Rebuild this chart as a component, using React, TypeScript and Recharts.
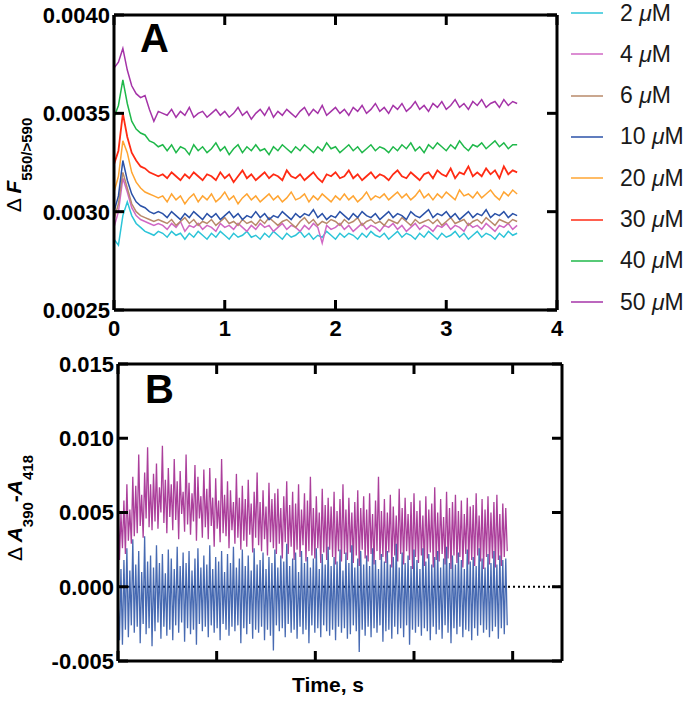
import { LineChart, Line, XAxis, YAxis, ReferenceLine } from 'recharts'

const FONT = '"Liberation Sans", Arial, Helvetica, sans-serif'

// Panel A: ΔF550/>590, values in units of 1e-4, sampled every A_STEP seconds
const A_STEP = 0.04
const A_SCALE = 1e-4

const A_2UM = [
  28.6, 28.3, 29.8, 30.5, 29.8, 29.4, 29.2, 29.0, 28.9, 28.8, 29.0, 28.9,
  28.7, 29.0, 28.8, 28.9, 28.6, 28.9, 28.7, 29.0, 28.8, 28.6,
  28.9, 28.7, 29.0, 28.8, 28.6, 28.9, 28.7, 28.8, 29.0, 28.7,
  28.8, 28.6, 28.9, 28.7, 29.0, 28.8, 28.6, 28.9, 28.7, 28.8,
  29.0, 28.7, 28.9, 28.6, 28.8, 28.7, 29.0, 28.8, 28.6, 28.9,
  28.7, 28.9, 28.8, 28.6, 28.9, 28.7, 29.0, 28.8, 28.7, 28.9,
  28.6, 28.8, 29.0, 28.7, 28.9, 28.8, 28.6, 28.9, 28.7, 29.0,
  28.8, 28.6, 28.9, 28.7, 28.8, 29.0, 28.7, 28.9, 28.6, 28.8,
  29.0, 28.7, 28.9, 28.8, 28.6, 28.9, 28.7, 29.0, 28.8, 28.9,
]
const A_4UM = [
  29.2, 30.0, 31.7, 31.0, 30.2, 29.8, 29.6, 29.5, 29.4, 29.3, 29.4, 29.3,
  29.1, 29.4, 29.2, 29.5, 29.0, 29.3, 29.2, 29.4, 29.1, 29.3,
  29.2, 29.0, 29.4, 29.2, 29.3, 29.1, 29.4, 29.2, 29.0, 29.3,
  29.1, 29.4, 29.2, 29.3, 29.0, 29.2, 29.4, 29.1, 29.3, 29.2,
  29.0, 29.3, 29.1, 29.4, 29.2, 28.4, 29.3, 29.1, 29.2, 29.4,
  29.1, 29.3, 29.0, 29.2, 29.4, 29.1, 29.3, 29.2, 29.0, 29.3,
  29.2, 29.4, 29.1, 29.3, 29.0, 29.2, 29.4, 29.1, 29.3, 29.2,
  29.0, 29.3, 29.2, 29.4, 29.1, 29.3, 29.2, 29.0, 29.4, 29.2,
  29.3, 29.1, 29.4, 29.2, 29.0, 29.3, 29.2, 29.4, 29.1, 29.3,
]
const A_6UM = [
  29.6, 30.4, 32.0, 31.2, 30.4, 30.0, 29.8, 29.7, 29.6, 29.5, 29.6, 29.5,
  29.4, 29.6, 29.3, 29.5, 29.7, 29.4, 29.6, 29.3, 29.5, 29.4,
  29.6, 29.3, 29.5, 29.7, 29.4, 29.5, 29.3, 29.6, 29.4, 29.5,
  29.3, 29.6, 29.4, 29.7, 29.5, 29.3, 29.5, 29.6, 29.4, 29.2,
  29.5, 29.7, 29.4, 29.6, 29.3, 29.5, 29.4, 29.6, 29.5, 29.3,
  29.6, 29.4, 29.5, 29.7, 29.3, 29.5, 29.6, 29.4, 29.5, 29.3,
  29.6, 29.5, 29.4, 29.7, 29.5, 29.3, 29.6, 29.4, 29.5, 29.6,
  29.4, 29.6, 29.3, 29.5, 29.7, 29.4, 29.5, 29.6, 29.3, 29.5,
  29.6, 29.4, 29.7, 29.5, 29.3, 29.6, 29.5, 29.4, 29.6, 29.5,
]
const A_10UM = [
  30.0, 30.8, 32.6, 31.6, 30.9, 30.5, 30.3, 30.2, 30.0, 29.9, 30.0, 29.9,
  29.7, 30.0, 29.8, 29.6, 29.9, 29.7, 30.0, 29.8, 29.6, 29.9,
  29.7, 29.9, 29.6, 29.8, 30.0, 29.7, 29.9, 29.6, 29.8, 29.7,
  30.0, 29.7, 29.9, 29.6, 29.8, 29.7, 30.0, 29.8, 29.6, 29.9,
  29.7, 29.9, 29.8, 30.1, 29.7, 29.9, 29.6, 29.8, 29.7, 30.0,
  29.8, 29.6, 29.9, 29.7, 30.0, 29.8, 29.7, 29.9, 29.6, 29.8,
  30.0, 29.7, 29.9, 29.8, 29.6, 30.0, 29.8, 29.7, 29.9, 30.1,
  29.7, 29.9, 29.8, 30.0, 29.7, 29.9, 29.6, 29.8, 30.0, 29.7,
  29.9, 29.8, 30.1, 29.7, 29.9, 29.8, 30.0, 29.7, 29.9, 29.8,
]
const A_20UM = [
  31.0, 31.8, 33.6, 33.0, 32.0, 31.5, 31.2, 31.0, 30.9, 30.8, 30.7, 30.8,
  30.5, 30.9, 30.6, 30.8, 30.4, 30.7, 30.9, 30.5, 30.8, 30.6,
  30.9, 30.5, 30.7, 31.0, 30.6, 30.8, 30.4, 30.7, 30.9, 30.6,
  30.8, 30.5, 30.7, 30.9, 30.6, 30.8, 30.5, 30.7, 31.0, 30.6,
  30.7, 30.9, 30.5, 30.8, 30.6, 30.9, 30.7, 30.5, 30.8, 30.6,
  30.9, 30.6, 30.8, 30.5, 30.7, 31.0, 30.6, 30.8, 30.7, 30.9,
  30.6, 30.8, 31.0, 30.7, 30.9, 30.6, 30.8, 31.1, 30.7, 30.9,
  30.6, 30.9, 30.7, 31.0, 30.8, 30.6, 31.1, 30.8, 30.9, 30.7,
  31.0, 30.7, 30.9, 31.1, 30.8, 30.6, 31.0, 30.8, 31.1, 30.9,
]
const A_30UM = [
  32.4, 33.1, 35.0, 33.8, 33.0, 32.6, 32.3, 32.2, 32.0, 31.9, 31.8, 31.9,
  31.7, 32.0, 31.8, 31.6, 31.9, 31.7, 32.0, 31.8, 31.6, 31.9,
  31.8, 31.6, 32.0, 31.7, 31.9, 31.5, 31.8, 32.1, 31.7, 31.9,
  31.6, 31.8, 32.0, 31.7, 31.9, 31.8, 31.6, 32.1, 31.8, 31.7,
  31.9, 31.6, 31.8, 32.0, 31.7, 31.5, 31.9, 31.8, 32.0, 31.7,
  31.8, 32.1, 31.7, 31.9, 31.6, 31.8, 32.0, 31.7, 31.9, 31.8,
  31.6, 31.9, 32.1, 31.8, 31.7, 32.0, 31.8, 31.6, 31.9, 32.0,
  31.7, 32.1, 31.9, 31.8, 32.2, 31.7, 32.0, 31.9, 32.3, 31.8,
  32.0, 31.8, 32.2, 31.9, 32.1, 31.7, 32.3, 31.9, 32.1, 32.0,
]
const A_40UM = [
  34.8, 35.4, 36.7, 35.5, 34.6, 34.2, 34.0, 33.9, 33.6, 33.5, 33.3, 33.4,
  33.1, 33.4, 33.0, 33.3, 33.2, 32.9, 33.4, 33.1, 33.3, 33.0,
  33.2, 33.5, 33.1, 33.3, 32.9, 33.2, 33.4, 33.0, 33.3, 33.1,
  33.4, 33.1, 33.2, 32.9, 33.3, 33.1, 33.4, 33.2, 33.0, 33.3,
  33.1, 33.4, 33.2, 33.0, 33.3, 33.1, 33.5, 33.2, 33.3, 33.0,
  33.2, 33.4, 33.1, 33.3, 33.0, 33.2, 33.4, 33.1, 33.3, 33.2,
  33.0, 33.3, 33.1, 33.4, 33.2, 33.5, 33.1, 33.3, 33.0, 33.4,
  33.2, 33.5, 33.3, 33.1, 33.4, 33.2, 33.6, 33.3, 33.1, 33.4,
  33.3, 33.5, 33.2, 33.4, 33.6, 33.3, 33.5, 33.2, 33.4, 33.4,
]
const A_50UM = [
  37.3, 37.6, 38.3, 37.2, 36.4, 36.0, 35.8, 35.9, 35.2, 34.6, 35.1, 35.0,
  34.9, 35.2, 34.8, 35.1, 34.9, 35.3, 34.8, 35.0, 35.1, 34.8,
  35.0, 35.2, 34.9, 35.1, 34.8, 35.0, 35.3, 34.9, 35.1, 34.7,
  35.0, 35.2, 34.9, 35.3, 34.8, 35.1, 34.9, 35.2, 35.0, 34.8,
  35.1, 35.3, 34.9, 35.2, 35.0, 35.4, 34.9, 35.1, 35.3, 35.0,
  35.2, 34.9, 35.3, 35.1, 35.4, 35.0, 35.2, 35.5, 35.1, 35.3,
  35.0, 35.4, 35.2, 35.5, 35.1, 35.3, 35.6, 35.2, 35.4, 35.1,
  35.5, 35.3, 35.6, 35.2, 35.4, 35.7, 35.3, 35.5, 35.2, 35.6,
  35.4, 35.7, 35.3, 35.5, 35.6, 35.3, 35.7, 35.4, 35.6, 35.5,
]

const A_SERIES = [
  { key: 'c2', label: '2', color: '#2cc4d8', values: A_2UM },
  { key: 'c4', label: '4', color: '#d068c4', values: A_4UM },
  { key: 'c6', label: '6', color: '#b8896a', values: A_6UM },
  { key: 'c10', label: '10', color: '#2b52a8', values: A_10UM },
  { key: 'c20', label: '20', color: '#ffa533', values: A_20UM },
  { key: 'c30', label: '30', color: '#ff2b14', values: A_30UM },
  { key: 'c40', label: '40', color: '#1fb84a', values: A_40UM },
  { key: 'c50', label: '50', color: '#a534a8', values: A_50UM },
]

const A_Y_TICKS = [0.0025, 0.003, 0.0035, 0.004]
const A_X_TICKS = [0, 1, 2, 3, 4]

// Panel B: ΔA390-A418, values in units of 1e-3, sampled every B_STEP seconds
const B_STEP = 0.015
const B_SCALE = 1e-3

const B_MAGENTA = [
  6.6, 1.8, 4.9, 2.6, 5.8, 2.2, 6.9, 3.1, 5.2, 2.9, 7.4, 3.4,
  6.8, 3.6, 8.9, 4.1, 6.2, 3.3, 7.7, 4.6, 9.4, 4.0, 6.9, 3.8,
  7.6, 4.4, 8.3, 3.9, 6.7, 5.0, 9.5, 4.3, 7.2, 3.6, 8.0, 4.7,
  6.9, 3.8, 8.6, 4.5, 7.1, 3.2, 7.8, 4.9, 6.4, 3.7, 8.9, 4.2,
  7.0, 3.5, 6.3, 4.4, 8.2, 3.1, 7.4, 4.6, 6.1, 3.3, 7.9, 4.0,
  6.6, 3.2, 8.0, 4.1, 6.0, 2.7, 7.3, 3.9, 5.8, 3.0, 8.6, 3.6,
  6.2, 3.4, 7.1, 2.6, 6.5, 3.8, 5.7, 2.9, 7.6, 3.3, 6.0, 2.5,
  6.8, 3.1, 5.9, 2.7, 7.2, 3.5, 5.6, 2.3, 6.4, 3.3, 7.7, 2.8,
  5.7, 2.4, 6.5, 3.2, 5.4, 2.1, 7.0, 3.0, 5.9, 2.6, 6.3, 2.2,
  6.6, 2.9, 5.3, 1.9, 6.1, 3.0, 7.1, 2.2, 5.5, 2.7, 6.4, 1.8,
  5.6, 2.5, 6.9, 2.0, 5.2, 2.8, 6.3, 1.7, 5.8, 2.4, 7.4, 2.1,
  5.3, 1.9, 6.1, 2.6, 5.0, 1.6, 6.6, 2.3, 5.5, 1.8, 6.0, 2.5,
  5.4, 2.0, 6.4, 1.5, 5.1, 2.4, 5.9, 1.7, 6.9, 2.2, 5.2, 1.8,
  6.0, 2.3, 5.0, 1.6, 5.7, 2.1, 6.5, 1.4, 5.3, 2.5, 6.1, 1.9,
  5.2, 1.7, 6.3, 2.2, 4.9, 1.5, 5.8, 2.4, 7.4, 1.8, 5.1, 2.0,
  5.9, 1.6, 5.0, 2.3, 6.2, 1.3, 5.4, 2.1, 4.8, 1.7, 6.6, 2.2,
  5.3, 1.5, 6.0, 2.4, 4.9, 1.8, 5.7, 1.2, 6.3, 2.0, 5.1, 1.6,
  5.8, 2.1, 4.8, 1.4, 6.1, 1.9, 5.2, 2.3, 5.6, 1.3, 6.7, 1.8,
  5.0, 1.7, 5.9, 2.2, 4.7, 1.5, 6.4, 1.9, 5.3, 1.2, 5.7, 2.1,
  6.2, 1.6, 5.1, 2.0, 5.8, 1.3, 4.9, 2.2, 6.0, 1.5, 5.4, 1.8,
  5.5, 1.4, 6.3, 2.1, 4.8, 1.7, 5.9, 1.2, 5.2, 2.0, 6.1, 1.5,
  5.0, 1.9, 5.7, 1.3, 6.2, 1.8, 4.9, 1.4, 5.6, 2.0, 5.3, 2.4,
]
const B_BLUE = [
  -0.8, -3.6, 1.2, -3.9, 1.8, -2.9, 2.6, -3.4, 1.1, -2.6, 3.2, -3.1,
  1.5, -2.7, 2.4, -3.8, 1.0, -2.5, 3.4, -3.2, 1.7, -2.8, 2.1, -4.0,
  1.3, -3.0, 2.8, -2.4, 1.6, -3.5, 2.2, -2.7, 0.9, -3.3, 2.5, -2.9,
  1.9, -3.6, 1.2, -2.6, 2.7, -3.1, 1.4, -2.4, 2.3, -3.7, 1.6, -2.8,
  2.4, -3.2, 1.1, -2.9, 1.9, -3.9, 2.6, -2.5, 1.3, -3.0, 2.1, -2.7,
  1.5, -3.4, 2.8, -2.6, 1.2, -3.1, 2.0, -2.8, 1.7, -3.6, 2.4, -2.5,
  1.0, -2.9, 2.2, -3.3, 1.6, -2.7, 2.7, -3.0, 1.3, -2.6, 1.9, -3.8,
  2.5, -2.8, 1.4, -3.2, 2.1, -2.5, 1.1, -3.5, 2.6, -2.9, 1.5, -3.1,
  1.8, -2.7, 2.3, -3.6, 1.2, -2.9, 2.0, -3.3, 1.6, -4.3, 2.5, -2.6,
  1.3, -3.0, 2.1, -2.8, 1.7, -3.4, 2.9, -2.5, 1.4, -3.1, 1.9, -2.9,
  2.3, -3.5, 1.0, -2.7, 2.4, -3.2, 1.6, -2.9, 2.0, -3.8, 1.3, -2.6,
  1.9, -3.1, 2.6, -2.8, 1.2, -3.4, 2.2, -2.6, 1.5, -3.0, 2.7, -3.3,
  1.4, -2.9, 2.0, -3.6, 1.7, -2.7, 2.5, -3.1, 1.1, -2.8, 2.3, -3.5,
  1.6, -3.2, 2.8, -2.6, 1.3, -3.0, 1.9, -4.4, 2.4, -2.9, 1.5, -3.3,
  2.1, -2.7, 1.4, -3.4, 2.6, -2.8, 1.8, -3.1, 1.2, -2.6, 2.2, -3.7,
  1.7, -3.0, 2.4, -2.9, 1.5, -3.5, 2.0, -2.7, 2.9, -3.2, 1.3, -2.8,
  2.3, -3.4, 1.6, -2.6, 2.1, -3.9, 1.4, -2.9, 2.5, -3.1, 1.8, -2.7,
  1.2, -3.3, 2.6, -2.8, 1.7, -3.0, 2.2, -3.6, 1.5, -2.7, 2.0, -3.2,
  2.4, -2.9, 1.3, -3.5, 1.9, -2.6, 2.7, -3.1, 1.6, -3.8, 2.1, -2.8,
  1.5, -3.2, 2.3, -2.7, 1.8, -3.4, 1.2, -2.9, 2.5, -3.0, 1.7, -3.6,
  2.0, -2.8, 1.4, -3.3, 2.6, -2.6, 1.9, -3.1, 1.3, -2.9, 2.2, -3.4,
  1.6, -3.0, 2.4, -2.7, 1.5, -3.5, 2.1, -2.8, 1.8, -3.2, 1.9, -2.6,
]

const B_Y_TICKS = [-0.005, 0, 0.005, 0.01, 0.015]
const B_X_TICKS = [0, 1, 2, 3, 4]

const aData = A_2UM.map((_, i) => {
  const row: Record<string, number> = { t: +(i * A_STEP).toFixed(3) }
  A_SERIES.forEach((s) => {
    row[s.key] = s.values[i] * A_SCALE
  })
  return row
})

const bData = B_MAGENTA.map((v, i) => ({
  t: +(i * B_STEP).toFixed(3),
  magenta: v * B_SCALE,
  blue: B_BLUE[i] * B_SCALE,
}))

// plot box sizes (px), used to mirror the inward ticks onto the top/right frame
const A_BOX = { w: 443, h: 295 }
const B_BOX = { w: 444, h: 297 }
const TICK_LEN = 10
const axisStroke = { stroke: '#000', strokeWidth: 3 }

function labelText(x: number, y: number, text: string, anchor: 'end' | 'middle', dy: string) {
  return (
    <text
      x={x}
      y={y}
      dy={dy}
      textAnchor={anchor}
      fontSize={22}
      fontWeight="bold"
      fontFamily={FONT}
      fill="#000"
    >
      {text}
    </text>
  )
}

// left axis: inward tick on the left edge plus its mirror on the right edge
function leftTick(span: number, fmt: (v: number) => string) {
  return (props: any) => {
    const x = Number(props.x)
    const y = Number(props.y)
    return (
      <g>
        <line x1={x} x2={x + TICK_LEN} y1={y} y2={y} stroke="#000" strokeWidth={3} />
        <line x1={x + span} x2={x + span - TICK_LEN} y1={y} y2={y} stroke="#000" strokeWidth={3} />
        {labelText(x - 4, y, fmt(props.payload.value), 'end', '0.36em')}
      </g>
    )
  }
}

// bottom axis: inward tick on the bottom edge plus its mirror on the top edge
function bottomTick(span: number, fmt?: (v: number) => string) {
  return (props: any) => {
    const x = Number(props.x)
    const y = Number(props.y)
    return (
      <g>
        <line x1={x} x2={x} y1={y} y2={y - TICK_LEN} stroke="#000" strokeWidth={3} />
        <line x1={x} x2={x} y1={y - span} y2={y - span + TICK_LEN} stroke="#000" strokeWidth={3} />
        {fmt && labelText(x, y + 26, fmt(props.payload.value), 'middle', '0')}
      </g>
    )
  }
}

function PanelA() {
  return (
    <LineChart
      width={688}
      height={340}
      data={aData}
      margin={{ top: 15, right: 131, bottom: 0, left: 0 }}
    >
      <XAxis
        dataKey="t"
        type="number"
        domain={[0, 4]}
        ticks={A_X_TICKS}
        interval={0}
        height={30}
        tickSize={0}
        tickMargin={0}
        tick={bottomTick(A_BOX.h, (v) => String(v))}
        axisLine={axisStroke}
        tickLine={false}
      />
      <YAxis
        type="number"
        domain={[0.0025, 0.004]}
        ticks={A_Y_TICKS}
        interval={0}
        width={114}
        tickSize={0}
        tickMargin={0}
        tick={leftTick(A_BOX.w, (v) => v.toFixed(4))}
        axisLine={axisStroke}
        tickLine={false}
        allowDataOverflow
      />
      <ReferenceLine y={0.004} stroke="#000" strokeWidth={3} />
      <ReferenceLine x={4} stroke="#000" strokeWidth={3} />
      {A_SERIES.map((s) => (
        <Line
          key={s.key}
          dataKey={s.key}
          name={`${s.label} μM`}
          stroke={s.color}
          strokeWidth={s.key === 'c30' ? 1.8 : 1.5}
          dot={false}
          type="linear"
          isAnimationActive={false}
        />
      ))}
    </LineChart>
  )
}

function PanelB() {
  return (
    <LineChart
      width={688}
      height={363}
      data={bData}
      margin={{ top: 24, right: 126, bottom: 0, left: 0 }}
    >
      <XAxis
        dataKey="t"
        type="number"
        domain={[0, 4.5]}
        ticks={B_X_TICKS}
        interval={0}
        height={42}
        tickSize={0}
        tickMargin={0}
        tick={bottomTick(B_BOX.h)}
        axisLine={axisStroke}
        tickLine={false}
      />
      <YAxis
        type="number"
        domain={[-0.005, 0.015]}
        ticks={B_Y_TICKS}
        interval={0}
        width={118}
        tickSize={0}
        tickMargin={0}
        tick={leftTick(B_BOX.w, (v) => v.toFixed(3))}
        axisLine={axisStroke}
        tickLine={false}
        allowDataOverflow
      />
      <ReferenceLine y={0.015} stroke="#000" strokeWidth={3} />
      <ReferenceLine x={4.5} stroke="#000" strokeWidth={3} />
      <ReferenceLine y={0} stroke="#000" strokeWidth={2} strokeDasharray="2 3" />
      <Line
        dataKey="magenta"
        stroke="#9c1d8a"
        strokeOpacity={0.85}
        strokeWidth={1.3}
        dot={false}
        type="linear"
        isAnimationActive={false}
      />
      <Line
        dataKey="blue"
        stroke="#2750a4"
        strokeOpacity={0.85}
        strokeWidth={1.3}
        dot={false}
        type="linear"
        isAnimationActive={false}
      />
    </LineChart>
  )
}

function LegendA() {
  return (
    <div style={{ position: 'absolute', left: 571, top: -7.6 }}>
      {A_SERIES.map((s) => (
        <div
          key={s.key}
          style={{ display: 'flex', alignItems: 'center', height: 41.3 }}
        >
          <div style={{ width: 32, height: 2, background: s.color, opacity: 0.75 }} />
          <span
            style={{
              marginLeft: 17,
              fontSize: 23,
              fontFamily: FONT,
              color: '#1a1a1a',
              whiteSpace: 'nowrap',
            }}
          >
            {s.label} <i>μ</i>M
          </span>
        </div>
      ))}
    </div>
  )
}

function Titles() {
  return (
    <svg
      width={688}
      height={703}
      style={{ position: 'absolute', left: 0, top: 0, pointerEvents: 'none' }}
      fontFamily={FONT}
    >
      <text x={140} y={52} fontSize={40} fontWeight="bold">A</text>
      <text x={145} y={403} fontSize={40} fontWeight="bold">B</text>
      <text transform="translate(21,165) rotate(-90)" textAnchor="middle" fontSize={21}>
        <tspan>Δ </tspan>
        <tspan fontWeight="bold" fontStyle="italic">F</tspan>
        <tspan fontWeight="bold" fontSize={15} dy={11}>550/&gt;590</tspan>
      </text>
      <text transform="translate(22,508) rotate(-90)" textAnchor="middle" fontSize={21}>
        <tspan>Δ </tspan>
        <tspan fontWeight="bold" fontStyle="italic">A</tspan>
        <tspan fontWeight="bold" fontSize={15} dy={11}>390</tspan>
        <tspan fontWeight="bold" dy={-11}>-</tspan>
        <tspan fontWeight="bold" fontStyle="italic">A</tspan>
        <tspan fontWeight="bold" fontSize={15} dy={11}>418</tspan>
      </text>
      <text x={328} y={692} textAnchor="middle" fontSize={21} fontWeight="bold">
        Time, s
      </text>
    </svg>
  )
}

export default function App() {
  return (
    <div
      style={{
        position: 'absolute',
        left: 0,
        top: 0,
        width: 688,
        height: 703,
        background: '#fff',
        overflow: 'hidden',
      }}
    >
      <div style={{ position: 'absolute', left: 0, top: 0 }}>
        <PanelA />
      </div>
      <div style={{ position: 'absolute', left: 0, top: 340 }}>
        <PanelB />
      </div>
      <LegendA />
      <Titles />
    </div>
  )
}
